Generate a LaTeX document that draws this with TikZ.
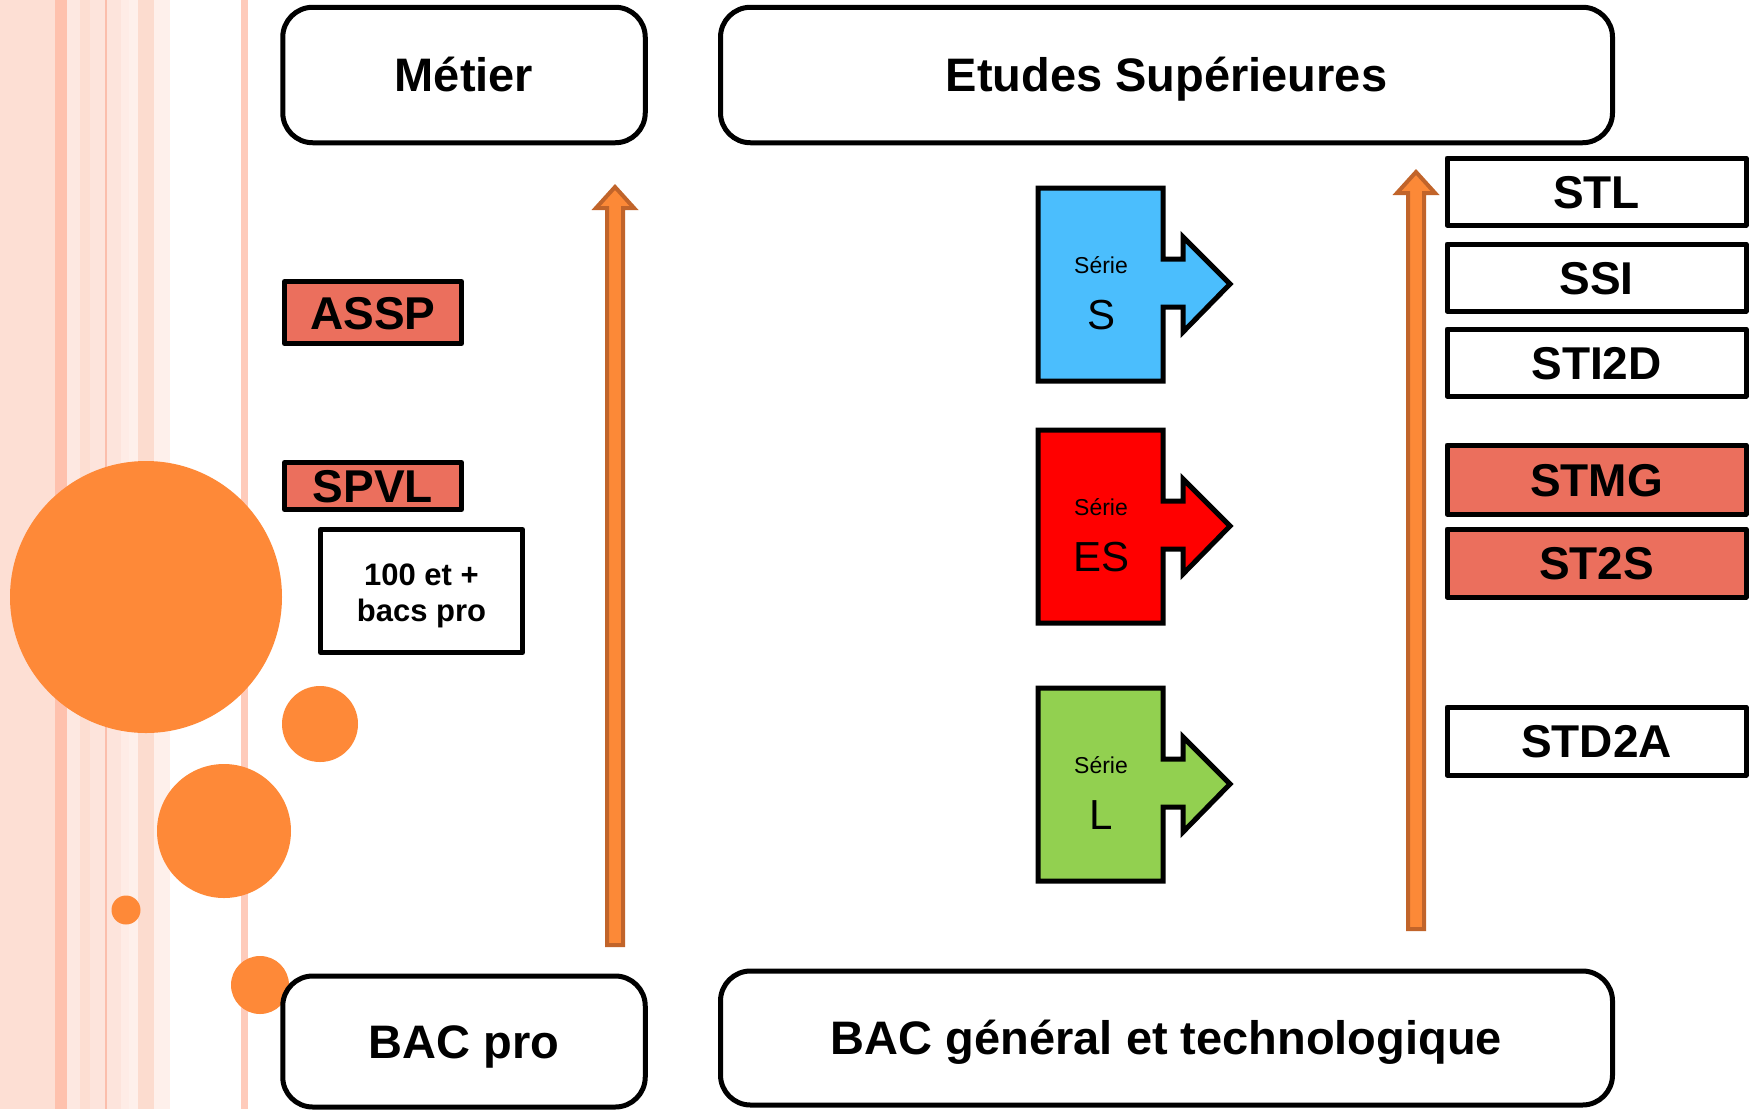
\documentclass[tikz,border=0pt]{standalone}
\usepackage{fontspec}
\setmainfont{Liberation Sans}
\usetikzlibrary{calc}
\definecolor{stA}{RGB}{253,223,212}
\definecolor{stB}{RGB}{254,193,173}
\definecolor{stC}{RGB}{253,232,225}
\definecolor{stD}{RGB}{253,222,210}
\definecolor{stE}{RGB}{253,228,220}
\definecolor{stF}{RGB}{251,190,172}
\definecolor{stG}{RGB}{254,236,230}
\definecolor{stH}{RGB}{254,240,235}
\definecolor{stI}{RGB}{252,220,207}
\definecolor{stJ}{RGB}{254,203,187}
\definecolor{bubbleorange}{RGB}{254,137,56}
\definecolor{arroworange}{RGB}{252,137,55}
\definecolor{arrowedge}{RGB}{193,100,42}
\definecolor{salmonc}{RGB}{235,111,93}
\definecolor{serieS}{RGB}{75,190,253}
\definecolor{serieES}{RGB}{255,0,0}
\definecolor{serieL}{RGB}{146,208,80}
\tikzset{
  rbox/.style={draw=black, line width=5pt, rounded corners=30pt, fill=white, inner sep=0pt,
    text height=33pt, text depth=0pt, font=\fontsize{47}{56}\selectfont\bfseries},
  sbox/.style={draw=black, line width=5pt, line join=round, fill=white, inner sep=0pt,
    text height=33pt, text depth=0pt, font=\fontsize{46}{55}\selectfont\bfseries},
  salmon/.style={fill=salmonc},
  serie/.style={font=\fontsize{23}{28}\selectfont, anchor=base, inner sep=0pt},
  letter/.style={font=\fontsize{42}{50}\selectfont, anchor=base, inner sep=0pt},
  blockarrow/.style={draw=arrowedge, fill=arroworange, line width=4pt, line join=miter},
  bubble/.style={fill=bubbleorange},
  pics/puzzle/.style args={#1/#2}{code={
    \path[draw=black, line width=5pt, line join=miter, fill=#1]
      (0,0) -- (125,0) -- (125,71) -- (145,71) -- (145,49) -- (192,96) -- (145,144)
      -- (145,119) -- (125,119) -- (125,193) -- (0,193) -- cycle;
    \node[serie] (-serie) at (63,85) {Série};
    \node[letter] (-letter) at (63,141) {#2};
  }}
}
\begin{document}
\begin{tikzpicture}[x=1pt,y=-1pt]
\useasboundingbox (0,0) rectangle (1760,1109);
\fill[white] (0,0) rectangle (1760,1109);
% stripes
\fill[stA] (0,0) rectangle (55,1109);
\fill[stB] (55,0) rectangle (67,1109);
\fill[stC] (67,0) rectangle (80,1109);
\fill[stD] (80,0) rectangle (90,1109);
\fill[stE] (90,0) rectangle (105,1109);
\fill[stF] (105,0) rectangle (107,1109);
\fill[stE] (107,0) rectangle (121,1109);
\fill[stG] (121,0) rectangle (129,1109);
\fill[stH] (129,0) rectangle (138,1109);
\fill[stI] (138,0) rectangle (154,1109);
\fill[stH] (154,0) rectangle (170,1109);
\fill[stJ] (241,0) rectangle (248,1109);
% bubbles
\fill[bubble] (146,597) circle[radius=136];
\fill[bubble] (320,724) circle[radius=38];
\fill[bubble] (224,831) circle[radius=67];
\fill[bubble] (126,910) circle[radius=14.5];
\fill[bubble] (260,985) circle[radius=29];
% main boxes
\node[rbox, minimum width=362.5pt, minimum height=135.5pt] (metier) at (464,75) {Métier};
\node[rbox, minimum width=892pt, minimum height=135.5pt] (etudes) at (1166.5,75) {Etudes Supérieures};
\node[rbox, minimum width=362.5pt, minimum height=131pt] (bacpro) at (464,1041.5) {BAC pro};
\node[rbox, minimum width=892pt, minimum height=134pt] (bacgen) at (1166.5,1038) {BAC général et technologique};
% left column
\node[sbox, salmon, minimum width=177pt, minimum height=62pt] (assp) at (373,312.5) {ASSP};
\node[sbox, salmon, minimum width=177pt, minimum height=47pt] (spvl) at (373,486) {SPVL};
\node[draw=black, line width=5pt, line join=round, fill=white, minimum width=202pt, minimum height=123pt,
  inner sep=0pt, align=center,
  font=\fontsize{31}{36}\selectfont\bfseries] (cent) at (421.5,591) {\rule{0pt}{31pt}100 et +\\bacs pro};
% right column
\node[sbox, minimum width=299pt, minimum height=67pt] (stl) at (1596.5,191.5) {STL};
\node[sbox, minimum width=299pt, minimum height=67pt] (ssi) at (1596.5,277.5) {SSI};
\node[sbox, minimum width=299pt, minimum height=67pt] (sti) at (1596.5,362.5) {STI2D};
\node[sbox, salmon, minimum width=299pt, minimum height=69pt] (stmg) at (1596.5,479.5) {STMG};
\node[sbox, salmon, minimum width=299pt, minimum height=68pt] (st2s) at (1596.5,563) {ST2S};
\node[sbox, minimum width=299pt, minimum height=68pt] (std2a) at (1596.5,741) {STD2A};
% arrows
\coordinate (LAb) at (615,945);
\coordinate (LAt) at (615,187);
\draw[blockarrow] ($(LAb)+(-8,0)$) -- ($(LAt)+(-8,21)$) -- ($(LAt)+(-19,21)$) -- (LAt)
  -- ($(LAt)+(19,21)$) -- ($(LAt)+(8,21)$) -- ($(LAb)+(8,0)$) -- cycle;
\coordinate (RAb) at (1416,929);
\coordinate (RAt) at (1416,172);
\draw[blockarrow] ($(RAb)+(-8,0)$) -- ($(RAt)+(-8,21)$) -- ($(RAt)+(-19,21)$) -- (RAt)
  -- ($(RAt)+(19,21)$) -- ($(RAt)+(8,21)$) -- ($(RAb)+(8,0)$) -- cycle;
% puzzles
\pic (pzS) at (1038,188) {puzzle={serieS/S}};
\pic (pzES) at (1038,430) {puzzle={serieES/ES}};
\pic (pzL) at (1038,688) {puzzle={serieL/L}};
\end{tikzpicture}
\end{document}
